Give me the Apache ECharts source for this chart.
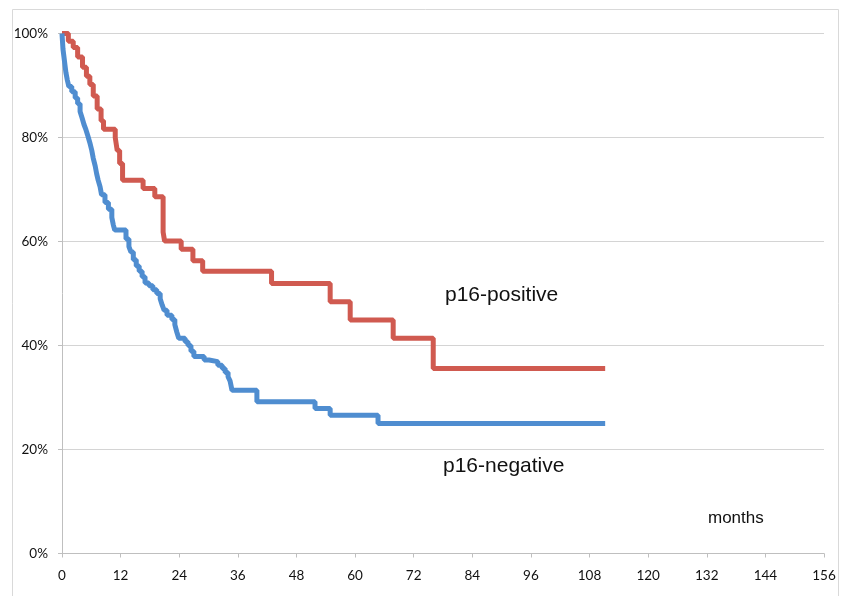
<!DOCTYPE html>
<html>
<head>
<meta charset="utf-8">
<script src="https://cdn.jsdelivr.net/npm/echarts@6/dist/echarts.min.js"></script>
<style>
html,body{margin:0;padding:0;background:#fff;}
#c{width:845px;height:596px;}
</style>
</head>
<body>
<div id="c"></div>
<script>
// Months on the x axis
const xTicks = [0,12,24,36,48,60,72,84,96,108,120,132,144,156];
const yTicks = [0,20,40,60,80,100];

// p16-positive survival (month, percent) – step changes
const posMonths = [0,1.3,2.3,3.2,4.2,5.0,5.7,6.4,7.2,8.0,8.5,10.9,11.3,11.8,12.4,16.6,19.0,20.7,21.0,24.4,26.8,28.8,42.9,54.9,59.0,67.8,76.0,111.2];
const posValues = [100,98.5,97.3,95.5,93.5,91.8,90.2,88.0,85.5,83.2,81.6,80.0,77.5,75.0,71.8,70.2,68.6,61.8,60.1,58.5,56.3,54.3,51.9,48.4,44.9,41.4,35.6,35.6];

// p16-negative survival (month, percent)
const negMonths = [0,0.1,0.2,0.4,0.6,0.8,1.1,1.4,2.0,2.7,3.2,3.7,4.1,4.5,4.9,5.3,5.7,6.1,6.4,6.8,7.1,7.4,7.8,8.1,8.8,9.5,10.2,10.5,10.8,13.1,13.7,14.1,14.6,15.2,15.8,16.4,17.0,17.8,18.6,19.4,20.1,20.5,20.9,21.5,22.5,23.1,23.5,23.9,25.2,25.8,26.4,27.0,29.1,30.1,31.9,32.8,33.4,34.0,34.4,34.8,39.9,51.8,54.9,64.7,111.2];
const negValues = [100,98.5,97,95.5,94,92.5,91,89.8,88.8,87.6,86.5,85,83.8,82.5,81.5,80.3,79,77.5,76,74.5,73,71.8,70.5,69,67.5,66.2,64.6,63.2,62.2,60.5,59,58,56.5,55.3,54.3,53.2,52,51.5,50.7,50,49,47.8,46.8,45.8,45,44,42.6,41.4,40.7,40,38.9,37.9,37.2,36.9,36.2,35.6,34.8,34,33.2,31.4,29.2,27.9,26.6,25.0,25.0];

const seriesNames = ['p16-positive','p16-negative'];
const axisTitle = 'months';

const chart = echarts.init(document.getElementById('c'), null, {renderer:'canvas'});
const zip = (a,b) => a.map((v,i)=>[v,b[i]]);
const font = 'Lato, "Liberation Sans", sans-serif';
const tfont = '"Liberation Sans", Arial, sans-serif';

chart.setOption({
  animation:false,
  backgroundColor:'#ffffff',
  grid:{left:62,right:21,top:33.5,bottom:42.5,containLabel:false},
  graphic:[
    {type:'rect',shape:{x:12.5,y:9.5,width:826,height:600},style:{fill:'none',stroke:'#d9d9d9',lineWidth:1},silent:true},
    {type:'text',left:445,top:285,style:{text:seriesNames[0],fontSize:21,fill:'#111',fontFamily:tfont}},
    {type:'text',left:443,top:456,style:{text:seriesNames[1],fontSize:21,fill:'#111',fontFamily:tfont}},
    {type:'text',left:708,top:510,style:{text:axisTitle,fontSize:17,fill:'#111',fontFamily:tfont}}
  ],
  xAxis:{
    type:'value',min:xTicks[0],max:xTicks[xTicks.length-1],interval:12,
    axisLine:{show:true,lineStyle:{color:'#bfbfbf',width:1}},
    axisTick:{show:true,length:4,lineStyle:{color:'#bfbfbf'}},
    axisLabel:{color:'#111',fontSize:13.5,fontFamily:font,margin:15},
    splitLine:{show:false}
  },
  yAxis:{
    type:'value',min:yTicks[0],max:yTicks[yTicks.length-1],interval:20,
    axisLine:{show:true,lineStyle:{color:'#bfbfbf',width:1}},
    axisTick:{show:true,length:4,lineStyle:{color:'#bfbfbf'}},
    axisLabel:{color:'#111',fontSize:13.5,fontFamily:font,margin:14,formatter:'{value}%'},
    splitLine:{show:true,lineStyle:{color:'#d4d4d4',width:1}}
  },
  series:[
    {name:seriesNames[0],type:'line',step:'end',showSymbol:false,data:zip(posMonths,posValues),
     lineStyle:{color:'#d05a50',width:5},itemStyle:{color:'#d05a50'}},
    {name:seriesNames[1],type:'line',step:'end',showSymbol:false,data:zip(negMonths,negValues),
     lineStyle:{color:'#4f8dd0',width:5},itemStyle:{color:'#4f8dd0'}}
  ]
});
</script>
</body>
</html>
